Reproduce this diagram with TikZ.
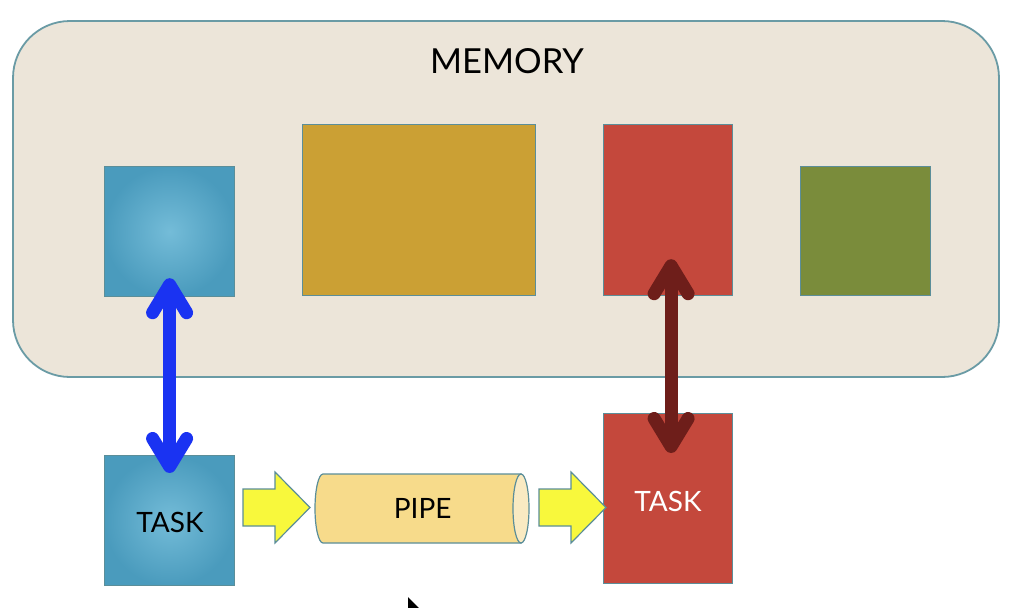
\documentclass[tikz,border=0pt]{standalone}
\usepackage{fontspec}
\setmainfont{Lato}
\usetikzlibrary{arrows.meta}
\definecolor{memfill}{HTML}{ECE5D9}
\definecolor{memline}{HTML}{6A9BA5}
\definecolor{boxline}{HTML}{5B8E99}
\definecolor{bluein}{HTML}{74BCD8}
\definecolor{blueout}{HTML}{4A9BBD}
\definecolor{gold}{HTML}{CBA034}
\definecolor{redbox}{HTML}{C4483C}
\definecolor{greenbox}{HTML}{7A8C3B}
\definecolor{pipebody}{HTML}{F7DB8B}
\definecolor{pipeend}{HTML}{F9EAC2}
\definecolor{yel}{HTML}{F8F83C}
\definecolor{bluearr}{HTML}{1A33F2}
\definecolor{redarr}{HTML}{6E1E1A}
\tikzset{
  membox/.style={draw=memline, line width=1.8pt, fill=memfill, rounded corners=57pt},
  sq/.style={draw=boxline, line width=1.2pt, inner sep=0pt, anchor=north west},
  bluesq/.style={sq, inner color=bluein, outer color=blueout},
  lbl/.style={font=\fontsize{28}{32}\selectfont},
  dbl/.style={line width=13pt, line cap=round, {Straight Barb[length=28pt, width=34pt, round]}-{Straight Barb[length=28pt, width=34pt, round]}},
  pipeline/.style={draw=boxline, line width=1.2pt},
  yarrow/.pic={\draw[draw=boxline, line width=1.2pt, fill=yel, line join=miter]
     (0,-18.5) -- ++(32,0) -- ++(0,-17) -- ++(35,35.5) -- ++(-35,35.5) -- ++(0,-17) -- ++(-32,0) -- cycle;}
}
\begin{document}
\begin{tikzpicture}[x=1pt,y=-1pt]
\useasboundingbox (0,0) rectangle (1026,608);
\fill[white] (0,0) rectangle (1026,608);
% memory
\draw[membox] (13,21) rectangle (999,377);
\node[font=\fontsize{34.5}{38}\selectfont] (memtxt) at (507,61) {MEMORY};
\node[bluesq, minimum width=130pt, minimum height=130pt] (bm) at (104,166) {};
\node[sq, fill=gold, minimum width=233pt, minimum height=171pt] (gm) at (302,124) {};
\node[sq, fill=redbox, minimum width=129pt, minimum height=171pt] (rm) at (603,124) {};
\node[sq, fill=greenbox, minimum width=130pt, minimum height=129pt] (grm) at (800,166) {};
% bottom row
\node[bluesq, minimum width=130pt, minimum height=130pt] (bt) at (104,455) {};
\node[lbl] (btl) at (170,522) {TASK};
% pipe
\node[inner sep=0pt, minimum width=215pt, minimum height=69pt, anchor=west] (pipe) at (315,508.5) {};
\draw[pipeline, fill=pipebody] (323,474) -- (521,474) -- (521,543) -- (323,543)
   arc[start angle=90, end angle=270, x radius=8, y radius=34.5] -- cycle;
\draw[pipeline, fill=pipeend] (521,508.5) ellipse[x radius=8, y radius=34.5];
\node[lbl] (pipel) at (pipe.center) {PIPE};
\node[sq, fill=redbox, minimum width=129pt, minimum height=170pt] (rt) at (603,413) {};
\node[lbl, text=white] (rtl) at (668,501) {TASK};
\pic at (243,507.5) {yarrow};
\pic at (539,507.5) {yarrow};
% double arrows
\draw[dbl, bluearr] ([yshift=19pt]bm.south) -- ([yshift=-18pt]bt.north);
\draw[dbl, redarr] ([xshift=3pt,yshift=37pt]rm.south) -- ([xshift=3pt,yshift=-40pt]rt.north);
% cursor
\fill[black] (408,597) -- (408,608) -- (419,608) -- cycle;
\end{tikzpicture}
\end{document}
